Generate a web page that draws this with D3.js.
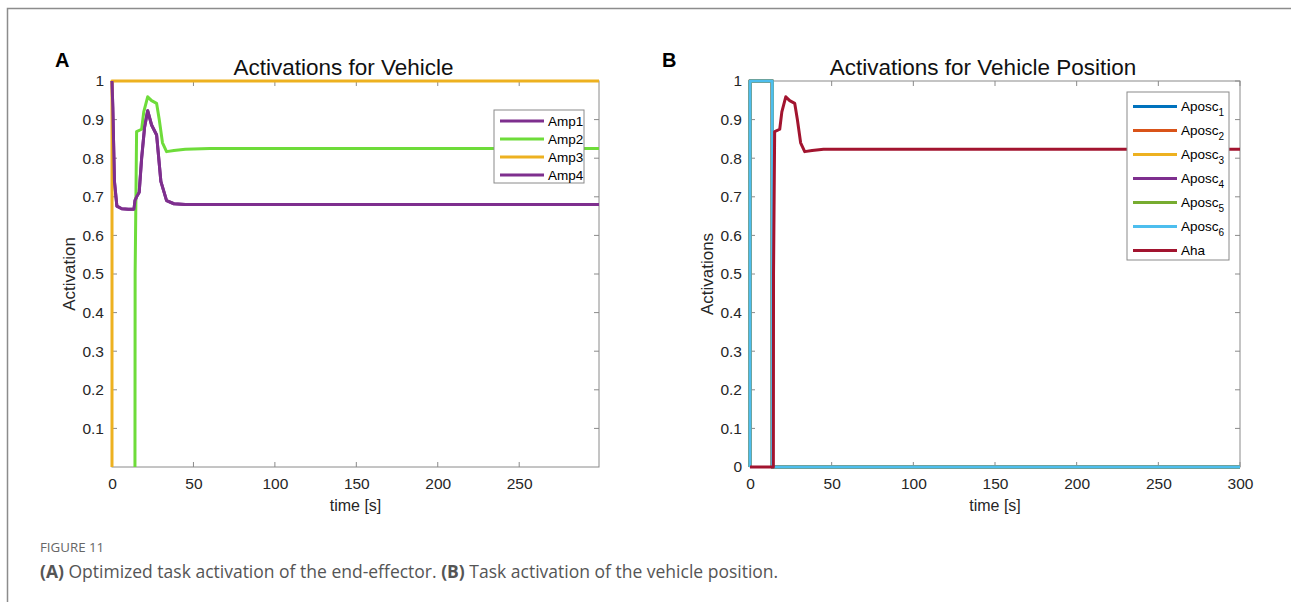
<!DOCTYPE html>
<html>
<head>
<meta charset="utf-8">
<script src="https://cdn.jsdelivr.net/npm/d3@7"></script>
<style>
  html, body { margin: 0; padding: 0; background: #fff; }
  svg { display: block; }
</style>
</head>
<body>
<svg id="fig" width="1291" height="602"></svg>
<script>
// ---- Panel A: end-effector activations ----
const timeA   = [0, 0.5, 1.5, 3, 6, 10, 13.5, 14.1, 15.1, 16.7, 18.2, 20, 21.9, 24.3, 27.4, 30, 33.5, 38, 45, 60, 100, 299];
const amp1    = [1, 0.93, 0.74, 0.676, 0.669, 0.668, 0.668, 0.69, 0.70, 0.712, 0.80, 0.88, 0.923, 0.886, 0.86, 0.74, 0.69, 0.682, 0.68, 0.68, 0.68, 0.68];
const timeA2  = [14.1, 14.2, 15.1, 18.2, 19.5, 21.9, 24.3, 27.4, 29, 31, 33.5, 38, 45, 60, 100, 299];
const amp2    = [0, 0.5, 0.869, 0.875, 0.92, 0.959, 0.949, 0.942, 0.90, 0.84, 0.817, 0.82, 0.823, 0.825, 0.825, 0.825];
const timeA3  = [0, 0.01, 299];
const amp3    = [0, 1, 1];
const amp4    = amp1;

// ---- Panel B: vehicle position activations ----
const timeB   = [0, 0.01, 13.6, 13.61, 300];
const aposc   = [0, 1, 1, 0, 0];
const timeHa  = [0, 14.3, 14.4, 15.1, 18.2, 19.5, 21.9, 24.3, 27.4, 29, 31, 33.5, 38, 45, 60, 100, 300];
const aha     = [0, 0, 0.5, 0.869, 0.875, 0.92, 0.959, 0.949, 0.942, 0.90, 0.84, 0.817, 0.82, 0.823, 0.823, 0.823, 0.823];

const ticksX  = [0, 50, 100, 150, 200, 250, 300];
const ticksYA = [0.1, 0.2, 0.3, 0.4, 0.5, 0.6, 0.7, 0.8, 0.9, 1];
const ticksYB = [0, 0.1, 0.2, 0.3, 0.4, 0.5, 0.6, 0.7, 0.8, 0.9, 1];

const C = {
  purple: "#7E2F8E", green: "#6EDC3A", orange: "#EDB120",
  blue: "#0072BD", red: "#D95319", yellow: "#EDB120", mpurple: "#7E2F8E",
  mgreen: "#77AC30", cyan: "#4DBEEE", maroon: "#A2142F"
};

const svg = d3.select("#fig");
const FONT = "'Liberation Sans', Arial, Helvetica, sans-serif";
const axisCol = "#8a8a8a";
const textCol = "#262626";

// outer frame (top and left edges)
svg.append("path").attr("d", "M7.5,602 L7.5,8.5 L1291,8.5")
  .attr("fill", "none").attr("stroke", "#8c8c8c").attr("stroke-width", 1.5);

function panel(opt) {
  const g = svg.append("g");
  const x = d3.scaleLinear().domain(opt.xDomain).range([opt.left, opt.right]);
  const y = d3.scaleLinear().domain([0, 1]).range([opt.bottom, opt.top]);

  // box axes with inward ticks on all four sides
  const tickLen = 5;
  const xt = opt.xTicks.filter(t => t <= opt.xDomain[1]);
  const ax = g.append("g").attr("stroke", axisCol).attr("fill", "none");
  ax.append("rect").attr("x", opt.left).attr("y", opt.top)
    .attr("width", opt.right - opt.left).attr("height", opt.bottom - opt.top)
    .attr("stroke-width", 1);
  xt.forEach(t => {
    ax.append("line").attr("x1", x(t)).attr("x2", x(t)).attr("y1", opt.bottom).attr("y2", opt.bottom - tickLen);
    ax.append("line").attr("x1", x(t)).attr("x2", x(t)).attr("y1", opt.top).attr("y2", opt.top + tickLen);
  });
  opt.yTicks.forEach(t => {
    ax.append("line").attr("x1", opt.left).attr("x2", opt.left + tickLen).attr("y1", y(t)).attr("y2", y(t));
    ax.append("line").attr("x1", opt.right).attr("x2", opt.right - tickLen).attr("y1", y(t)).attr("y2", y(t));
  });

  // tick labels through d3 axes (lines hidden, text kept)
  const xAxis = g.append("g").attr("transform", `translate(0,${opt.bottom})`)
    .call(d3.axisBottom(x).tickValues(xt).tickSize(0).tickPadding(11).tickFormat(d3.format("d")));
  const yAxis = g.append("g").attr("transform", `translate(${opt.left},0)`)
    .call(d3.axisLeft(y).tickValues(opt.yTicks).tickSize(0).tickPadding(8).tickFormat(d => d3.format("")(+d.toFixed(1))));
  [xAxis, yAxis].forEach(a => {
    a.select(".domain").remove();
    a.selectAll("text").attr("font-family", FONT).attr("font-size", 15.5).attr("fill", textCol);
  });

  // series
  const line = d3.line().x(d => x(d[0])).y(d => y(d[1]));
  opt.series.forEach(s => {
    g.append("path").datum(s.t.map((t, i) => [t, s.v[i]]))
      .attr("d", line).attr("fill", "none").attr("stroke", s.color)
      .attr("stroke-width", 3).attr("stroke-linejoin", "round").attr("stroke-linecap", "butt");
  });

  // titles and labels
  g.append("text").attr("x", (opt.left + opt.right) / 2 - 12).attr("y", opt.top - 6)
    .attr("text-anchor", "middle").attr("font-family", FONT).attr("font-size", 22.5)
    .attr("fill", "#111").text(opt.title);
  g.append("text").attr("x", (opt.left + opt.right) / 2).attr("y", opt.bottom + 44)
    .attr("text-anchor", "middle").attr("font-family", FONT).attr("font-size", 16)
    .attr("fill", textCol).text("time [s]");
  g.append("text").attr("transform", `translate(${opt.left - 37},${(opt.top + opt.bottom) / 2}) rotate(-90)`)
    .attr("text-anchor", "middle").attr("font-family", FONT).attr("font-size", 17)
    .attr("fill", textCol).text(opt.ylabel);
  g.append("text").attr("x", opt.letterX).attr("y", 67)
    .attr("font-family", FONT).attr("font-weight", "bold").attr("font-size", 20)
    .attr("fill", "#000").text(opt.letter);

  // legend
  const L = opt.legend;
  const lg = g.append("g");
  lg.append("rect").attr("x", L.x).attr("y", L.y).attr("width", L.w).attr("height", L.h)
    .attr("fill", "#fff").attr("stroke", axisCol).attr("stroke-width", 1);
  opt.series.forEach((s, i) => {
    const yy = L.y + L.first + i * L.step;
    lg.append("line").attr("x1", L.x + 6).attr("x2", L.x + 50).attr("y1", yy).attr("y2", yy)
      .attr("stroke", s.color).attr("stroke-width", 3);
    const tx = lg.append("text").attr("x", L.x + 54).attr("y", yy + 4.5)
      .attr("font-family", FONT).attr("font-size", 13.5).attr("fill", "#000");
    tx.append("tspan").text(s.name);
    if (s.sub) tx.append("tspan").attr("font-size", 10).attr("dy", 5).text(s.sub);
  });
}

panel({
  left: 112, right: 599, top: 81, bottom: 467,
  xDomain: [0, 299], xTicks: ticksX, yTicks: ticksYA,
  title: "Activations for Vehicle", ylabel: "Activation", letter: "A", letterX: 55,
  series: [
    { name: "Amp1", t: timeA, v: amp1, color: C.purple },
    { name: "Amp2", t: timeA2, v: amp2, color: C.green },
    { name: "Amp3", t: timeA3, v: amp3, color: C.orange },
    { name: "Amp4", t: timeA, v: amp4, color: C.purple }
  ],
  legend: { x: 494, y: 110, w: 90, h: 73, first: 11, step: 18 }
});

panel({
  left: 750, right: 1240, top: 81, bottom: 467,
  xDomain: [0, 300], xTicks: ticksX, yTicks: ticksYB,
  title: "Activations for Vehicle Position", ylabel: "Activations", letter: "B", letterX: 662,
  series: [
    { name: "Aposc", sub: "1", t: timeB, v: aposc, color: C.blue },
    { name: "Aposc", sub: "2", t: timeB, v: aposc, color: C.red },
    { name: "Aposc", sub: "3", t: timeB, v: aposc, color: C.yellow },
    { name: "Aposc", sub: "4", t: timeB, v: aposc, color: C.mpurple },
    { name: "Aposc", sub: "5", t: timeB, v: aposc, color: C.mgreen },
    { name: "Aposc", sub: "6", t: timeB, v: aposc, color: C.cyan },
    { name: "Aha", t: timeHa, v: aha, color: C.maroon }
  ],
  legend: { x: 1127, y: 92, w: 102, h: 168, first: 14.5, step: 24 }
});

// caption
svg.append("text").attr("x", 40).attr("y", 552)
  .attr("font-family", "'Open Sans', 'Noto Sans', sans-serif").attr("font-size", 13.3)
  .attr("fill", "#666").text("FIGURE 11");
const cap = svg.append("text").attr("x", 40).attr("y", 578)
  .attr("font-family", "'Open Sans', 'Noto Sans', sans-serif").attr("font-size", 17.5)
  .attr("fill", "#555");
cap.append("tspan").attr("font-weight", "bold").text("(A)");
cap.append("tspan").text(" Optimized task activation of the end-effector. ");
cap.append("tspan").attr("font-weight", "bold").text("(B)");
cap.append("tspan").text(" Task activation of the vehicle position.");
</script>
</body>
</html>
